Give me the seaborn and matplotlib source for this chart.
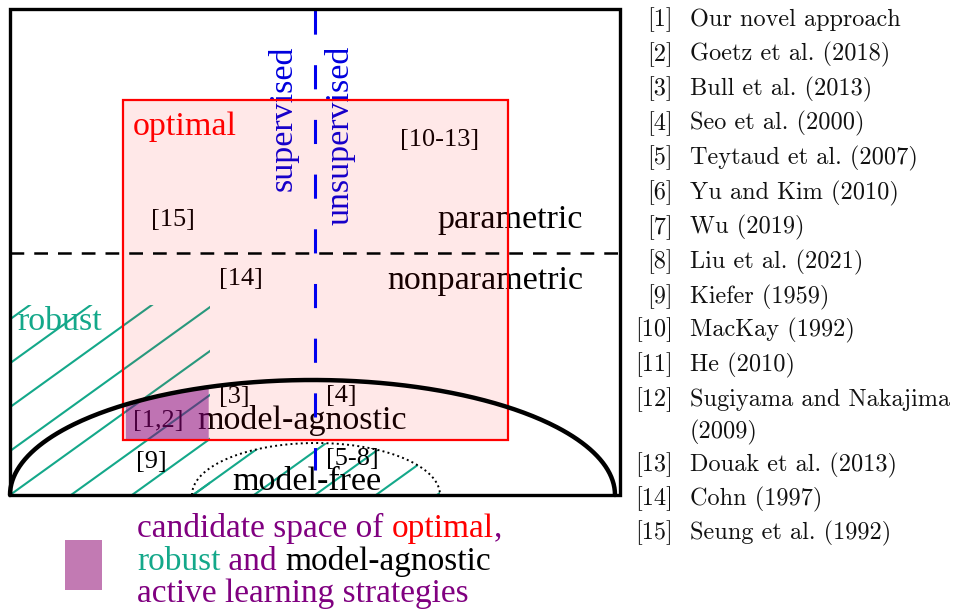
import numpy as np
import pandas as pd
import seaborn as sns
import matplotlib.pyplot as plt
from matplotlib.patches import Rectangle, Ellipse

sns.set_theme(style="white")
plt.rcParams['font.family'] = ['Liberation Serif', 'DejaVu Serif']

# diagram geometry (canvas pixels)
frame = [10, 620, 9, 495]            # x0, x1, y0, y1
split_y = 253                         # parametric / nonparametric
split_x = 315                         # supervised / unsupervised
optimal_box = [123, 508, 100, 440]    # x0, x1, y0, y1
agnostic_arc = [312.5, 495, 302.5, 115]   # cx, cy, a, b
free_arc = [316, 495, 124, 52]
robust_box = [10, 210, 305, 495]
hatch_starts = np.arange(-8, 10) * 61 + 10

region_labels = [
    ("optimal", 133, 127, "red", 24.5, "left", 0),
    ("supervised", 283, 118, "#0000dd", 24.5, "center", 90),
    ("unsupervised", 340, 135, "#0000dd", 24.5, "center", 90),
    ("parametric", 583, 220, "black", 24.5, "right", 0),
    ("nonparametric", 583, 281, "black", 24.5, "right", 0),
    ("robust", 17, 322, "#14a88a", 24.5, "left", 0),
    ("model-agnostic", 302, 420, "black", 24.5, "center", 0),
    ("model-free", 307, 482, "black", 24.5, "center", 0),
]
cite_labels = [
    ("[15]", 173, 220), ("[10-13]", 440, 140), ("[14]", 241, 279),
    ("[3]", 234, 397), ("[4]", 341, 396), ("[1,2]", 158, 421),
    ("[9]", 151, 462), ("[5-8]", 352, 459),
]
refs = [
    "Our novel approach", "Goetz et al. (2018)", "Bull et al. (2013)",
    "Seo et al. (2000)", "Teytaud et al. (2007)", "Yu and Kim (2010)",
    "Wu (2019)", "Liu et al. (2021)", "Kiefer (1959)", "MacKay (1992)",
    "He (2010)", "Sugiyama and Nakajima", "Douak et al. (2013)",
    "Cohn (1997)", "Seung et al. (1992)",
]
ref_y = [20, 54.5, 89, 123.5, 158, 193, 227.5, 262, 297, 330, 365, 400, 465, 499, 533]
legend_lines = [
    [("candidate space of ", "purple"), ("optimal", "red"), (",", "purple")],
    [("robust", "#14a88a"), (" and ", "purple"), ("model-agnostic", "black")],
    [("active learning strategies", "purple")],
]
legend_y = [528, 562, 594]

purple = "#c27ab3"
green = "#14a88a"

fig = plt.figure(figsize=(9.58, 6.12), dpi=100)
ax = fig.add_axes([0, 0, 1, 1])
ax.set_xlim(0, 958)
ax.set_ylim(612, 0)
ax.axis("off")

def half_ellipse(c):
    t = np.linspace(np.pi, 0, 300)
    return pd.DataFrame({"x": c[0] + c[2] * np.cos(t), "y": c[1] - c[3] * np.sin(t)})

# hatched robust region
for clip in [Rectangle((robust_box[0], robust_box[2]), robust_box[1] - robust_box[0],
                       robust_box[3] - robust_box[2]),
             Ellipse((free_arc[0], free_arc[1]), 2 * free_arc[2], 2 * free_arc[3])]:
    clip.set_transform(ax.transData)
    for x0 in hatch_starts:
        ln, = ax.plot([x0, x0 + 800], [495, 495 - 0.72 * 800], color=green, lw=1.5, zorder=1)
        ln.set_clip_path(clip)

# text
for s, x, y, c, fs, ha, rot in region_labels:
    ax.text(x, y, s, color=c, fontsize=fs, ha=ha, va="center", rotation=rot, zorder=2)
for s, x, y in cite_labels:
    ax.text(x, y, s, color="black", fontsize=19, ha="center", va="center", zorder=2)

# optimal box
x0, x1, y0, y1 = optimal_box
ax.add_patch(Rectangle((x0, y0), x1 - x0, y1 - y0, facecolor=(1, 0, 0, 0.09),
                       edgecolor="none", zorder=3))
ax.add_patch(Rectangle((x0, y0), x1 - x0, y1 - y0, facecolor="none",
                       edgecolor="red", lw=1.6, zorder=4))

# purple candidate space
arc = half_ellipse(agnostic_arc)
sub = arc[(arc.x >= optimal_box[0]) & (arc.x <= robust_box[1])]
ax.fill_between(sub.x, sub.y, optimal_box[3], color=(0.5, 0, 0.5), alpha=0.5,
                lw=0, zorder=3)

# arcs
sns.lineplot(data=arc, x="x", y="y", sort=False, estimator=None, color="black",
             lw=3.2, ax=ax, zorder=5)
sns.lineplot(data=half_ellipse(free_arc), x="x", y="y", sort=False, estimator=None,
             color="black", lw=1.4, ls=":", ax=ax, zorder=5)

# dividers
ax.plot([frame[0], frame[1]], [split_y, split_y], color="black", lw=1.8,
        dashes=(5.5, 4), zorder=5)
ax.plot([split_x, split_x], [10, 470], color="#0000ee", lw=2.2,
        dashes=(7.9, 10), zorder=5)
ax.add_patch(Rectangle((frame[0], frame[2]), frame[1] - frame[0], frame[3] - frame[2],
                       facecolor="none", edgecolor="black", lw=2.4, zorder=6))
ax.set_xlim(0, 958)
ax.set_ylim(612, 0)
ax.set_xlabel("")
ax.set_ylabel("")

# legend
ax.add_patch(Rectangle((65, 540), 37, 50, facecolor=purple, edgecolor="none"))
for parts, y in zip(legend_lines, legend_y):
    t = ax.text(137, y, parts[0][0], color=parts[0][1], fontsize=24, va="center")
    for s, c in parts[1:]:
        t = ax.annotate(s, xycoords=t, xy=(1, 0), va="bottom", color=c, fontsize=24)

# reference list
for i, (s, y) in enumerate(zip(refs, ref_y)):
    ax.text(673, y, f"[{i + 1}]", family="cmr10", fontsize=17.5, ha="right",
            va="center", color="#111111")
    ax.text(690, y, s, family="cmr10", fontsize=17.5, ha="left", va="center",
            color="#111111")
ax.text(690, 432, "(2009)", family="cmr10", fontsize=17.5, ha="left", va="center",
        color="#111111")

fig.savefig("out.png", dpi=100)
